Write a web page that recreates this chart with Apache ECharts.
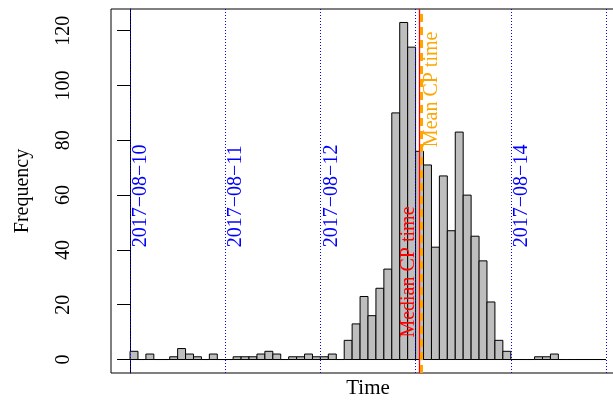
<!DOCTYPE html>
<html>
<head>
<meta charset="utf-8">
<script src="https://cdn.jsdelivr.net/npm/echarts@6/dist/echarts.min.js"></script>
<style>
html,body{margin:0;padding:0;background:#fff;}
#chart{width:613px;height:401px;}
</style>
</head>
<body>
<div id="chart"></div>
<script>
// ---- data (hours since 2017-08-10 00:00, 2-hour bins) ----
const binWidthHours = 2;
const binCounts = [
  3, 0, 2, 0, 0, 1, 4, 2, 1, 0,
  2, 0, 0, 1, 1, 1, 2, 3, 2, 0,
  1, 1, 2, 1, 1, 2, 0, 7, 13, 23,
  16, 26, 33, 90, 123, 114, 76, 71, 41, 67,
  47, 83, 60, 45, 36, 21, 7, 3, 0, 0,
  0, 1, 1, 2, 0, 0, 0, 0, 0, 0
];
const dayLineHours = [0, 24, 48, 72, 96, 120];
const dayLabelHours = [0, 24, 48, 96];
const dayLabelTexts = ['2017\u221208\u221210', '2017\u221208\u221211', '2017\u221208\u221212', '2017\u221208\u221214'];
const medianCPHour = 72.95;
const meanCPHour = 73.45;
const yTickValues = [0, 20, 40, 60, 80, 100, 120];

// ---- build ----
const histData = binCounts.map((c, i) => [i * binWidthHours, (i + 1) * binWidthHours, c]);
const FONT = '"Liberation Serif", "Times New Roman", serif';
const dateLabelY = 41;
const medianLabelY = 8;
const meanLabelY = 77.5;

const textData = dayLabelHours.map((h, i) => [h, dateLabelY, dayLabelTexts[i], 'date'])
  .concat([[medianCPHour, medianLabelY, 'Median CP time', 'median'],
           [meanCPHour, meanLabelY, 'Mean CP time', 'mean']]);

const chart = echarts.init(document.getElementById('chart'), null, {renderer: 'canvas'});
chart.setOption({
  animation: false,
  backgroundColor: '#fff',
  grid: {left: 111, top: 9, width: 514, height: 364, containLabel: false, outerBoundsMode: 'none',
         show: true, borderColor: '#000', borderWidth: 1, backgroundColor: 'transparent'},
  xAxis: {
    type: 'value', min: -4.8, max: 124.8,
    axisLine: {show: false}, axisTick: {show: false}, axisLabel: {show: false}, splitLine: {show: false},
    name: 'Time', nameLocation: 'middle', nameGap: 5,
    nameTextStyle: {fontFamily: FONT, fontSize: 21, color: '#000', verticalAlign: 'top'}
  },
  yAxis: {
    type: 'value', min: -4.92, max: 127.92,
    axisLine: {show: true, lineStyle: {color: '#000', width: 1}},
    axisTick: {show: true, length: 13, customValues: yTickValues, lineStyle: {color: '#000'}},
    axisLabel: {show: true, customValues: yTickValues, rotate: 90, margin: 37, fontFamily: FONT, fontSize: 20, color: '#000'},
    splitLine: {show: false},
    name: 'Frequency', nameLocation: 'middle', nameGap: 78,
    nameTextStyle: {fontFamily: FONT, fontSize: 20, color: '#000'}
  },
  series: [
    {
      type: 'custom',
      data: histData,
      encode: {x: [0, 1], y: 2},
      renderItem: function (params, api) {
        const p0 = api.coord([api.value(0), api.value(2)]);
        const p1 = api.coord([api.value(1), 0]);
        return {
          type: 'rect',
          shape: {x: p0[0], y: p0[1], width: p1[0] - p0[0], height: p1[1] - p0[1]},
          style: {fill: '#bebebe', stroke: '#000', lineWidth: 1}
        };
      },
      markLine: {
        silent: true, symbol: 'none', label: {show: false},
        data: dayLineHours.map(h => ({xAxis: h, lineStyle: {color: '#0000ff', type: [1, 2], width: 1}}))
          .concat([
            {xAxis: medianCPHour, lineStyle: {color: '#ff0000', type: 'solid', width: 1.3}},
            {xAxis: meanCPHour, lineStyle: {color: '#ffa500', type: [8, 5], width: 3}}
          ])
      }
    },
    {
      type: 'custom',
      data: textData,
      z: 10,
      renderItem: function (params, api) {
        const kind = textData[params.dataIndex][3];
        const p = api.coord([api.value(0), api.value(1)]);
        let color = '#0000ff', dx = 11;
        if (kind === 'median') { color = '#ff0000'; dx = -11; }
        if (kind === 'mean') { color = '#ffa500'; dx = 10.5; }
        return {
          type: 'text',
          x: p[0] + dx, y: p[1],
          rotation: Math.PI / 2,
          style: {text: textData[params.dataIndex][2], fill: color, font: '20px ' + FONT, align: 'left', verticalAlign: 'middle'}
        };
      }
    }
  ]
});
</script>
</body>
</html>
